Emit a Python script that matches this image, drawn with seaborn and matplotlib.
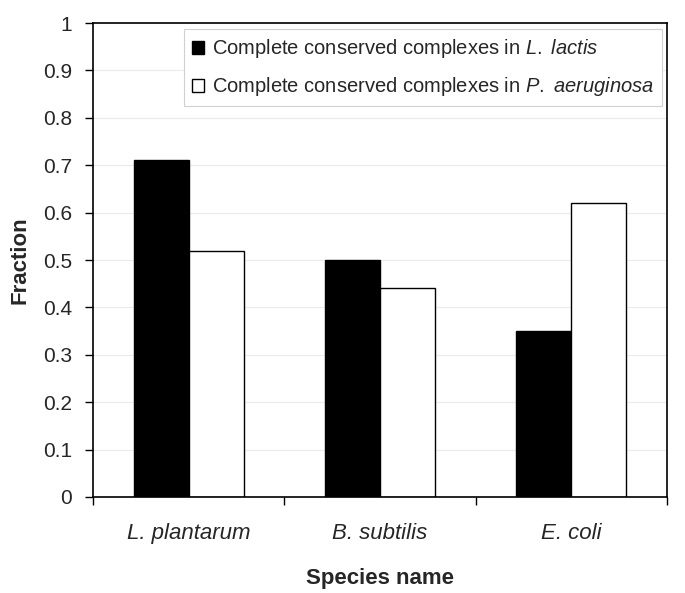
import matplotlib
matplotlib.use("Agg")
import matplotlib.pyplot as plt
from matplotlib.patches import Patch
from matplotlib.ticker import FixedLocator
import pandas as pd
import seaborn as sns

species = ["L. plantarum", "B. subtilis", "E. coli"]
lactis = [0.71, 0.50, 0.35]
aeruginosa = [0.52, 0.44, 0.62]
series = ["Complete conserved complexes in $\\it{L.}$ $\\it{lactis}$",
          "Complete conserved complexes in $\\it{P.}$ $\\it{aeruginosa}$"]
yticks = [0, 0.1, 0.2, 0.3, 0.4, 0.5, 0.6, 0.7, 0.8, 0.9, 1]
ytick_labels = ["0", "0.1", "0.2", "0.3", "0.4", "0.5", "0.6", "0.7", "0.8", "0.9", "1"]

df = pd.DataFrame({
    "species": species * 2,
    "fraction": lactis + aeruginosa,
    "series": [series[0]] * 3 + [series[1]] * 3,
})

sns.set_style("white")
plt.rcParams["font.family"] = ["Liberation Sans", "DejaVu Sans"]
plt.rcParams["mathtext.fontset"] = "custom"
plt.rcParams["mathtext.it"] = "Liberation Sans:italic"
plt.rcParams["mathtext.rm"] = "Liberation Sans"

fig = plt.figure(figsize=(6.85, 5.93), dpi=100)
ax = fig.add_axes([0.1358, 0.1619, 0.8379, 0.7993])

sns.barplot(data=df, x="species", y="fraction", hue="series",
            palette=["black", "white"], width=0.575, edgecolor="black",
            linewidth=1, ax=ax, legend=False)

ax.set_ylim(0, 1)
ax.set_xlim(-0.5, 2.5)
ax.set_yticks(yticks)
ax.set_yticklabels(ytick_labels)
ax.grid(axis="y", color="#ebebeb", linewidth=0.8)
ax.set_axisbelow(True)

ax.tick_params(axis="y", direction="out", length=6, width=1, left=True,
               labelsize=15, color="black", pad=9)
ax.tick_params(axis="x", which="major", length=0, labelsize=16, pad=19)
ax.xaxis.set_minor_locator(FixedLocator([-0.5, 0.5, 1.5, 2.5]))
ax.tick_params(axis="x", which="minor", direction="out", length=6, width=1,
               bottom=True, color="black")
for lab in ax.get_xticklabels():
    lab.set_fontstyle("italic")

for s in ax.spines.values():
    s.set_color("black")
    s.set_linewidth(1.2)

ax.set_xlabel("Species name", fontsize=16, fontweight="bold", labelpad=17)
ax.set_ylabel("Fraction", fontsize=16, fontweight="bold", labelpad=9)

handles = [Patch(facecolor="black", edgecolor="black"),
           Patch(facecolor="white", edgecolor="black")]
leg = ax.legend(handles, series, loc="upper right",
                bbox_to_anchor=(0.991, 0.987), borderaxespad=0,
                fontsize=14.5, frameon=True,
                fancybox=False, framealpha=1, edgecolor="#d0d0d0",
                handlelength=0.6, handleheight=0.6, handletextpad=0.4,
                labelspacing=0.75, borderpad=0.4)
leg.get_frame().set_linewidth(0.8)

fig.savefig("out.png", dpi=100)
